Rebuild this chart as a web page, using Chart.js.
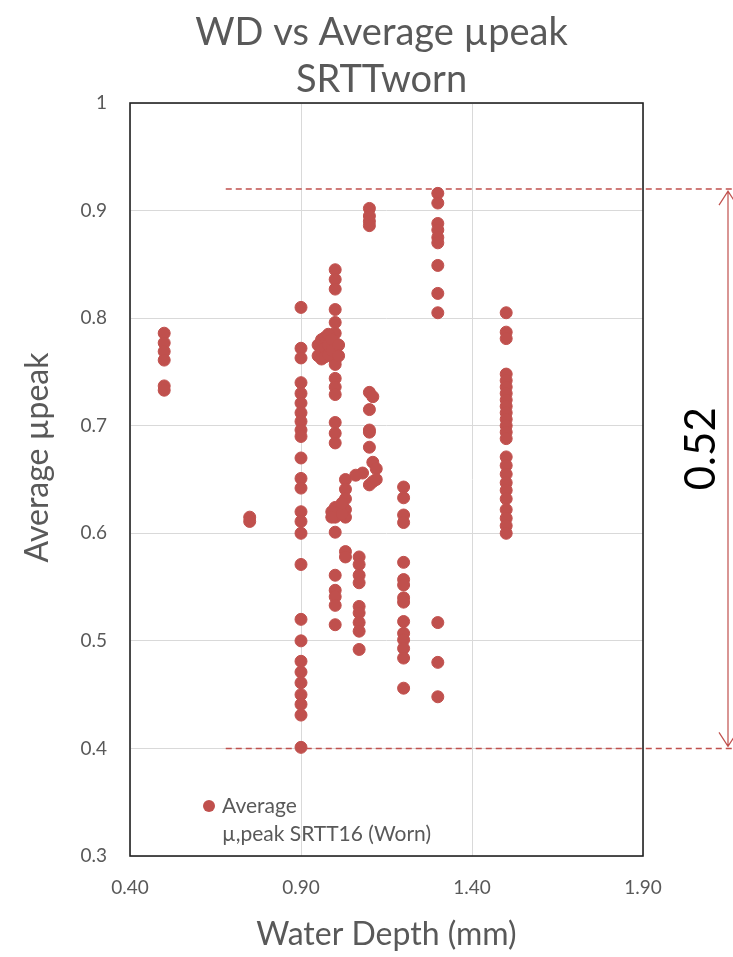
<!DOCTYPE html>
<html>
<head>
<meta charset="utf-8">
<script src="https://cdn.jsdelivr.net/npm/chart.js@4/dist/chart.umd.min.js"></script>
<style>
  html, body { margin:0; padding:0; background:#fff; }
  #wrap { width:733px; height:957px; }
</style>
</head>
<body>
<div id="wrap"><canvas id="wdChart" width="733" height="957"></canvas></div>
<script>
// water depth columns (mm) and the average mu peak readings at each
const depths = [0.50, 0.75, 0.90, 1.00, 1.03, 1.07, 1.10, 1.20, 1.30, 1.50];
const mu050 = [0.786, 0.777, 0.769, 0.761, 0.737, 0.733];
const mu075 = [0.615, 0.611];
const mu090 = [0.810, 0.772, 0.763, 0.740, 0.730, 0.721, 0.712, 0.704, 0.696, 0.690, 0.670, 0.651, 0.642,
               0.620, 0.611, 0.600, 0.571, 0.520, 0.500, 0.481, 0.471, 0.461, 0.450, 0.441, 0.431, 0.401];
const mu100 = [0.845, 0.836, 0.827, 0.808, 0.796, 0.786, 0.777, 0.768, 0.761, 0.757, 0.744, 0.736, 0.729,
               0.703, 0.693, 0.684, 0.624, 0.615, 0.601, 0.561, 0.547, 0.541, 0.533, 0.515];
const mu103 = [0.650, 0.641, 0.632, 0.622, 0.615, 0.583, 0.578];
const mu107 = [0.578, 0.571, 0.561, 0.554, 0.532, 0.526, 0.517, 0.509, 0.492];
const mu110 = [0.902, 0.895, 0.890, 0.886, 0.731, 0.715, 0.696, 0.680, 0.645];
const mu120 = [0.643, 0.633, 0.617, 0.610, 0.573, 0.557, 0.552, 0.540, 0.536, 0.518, 0.507, 0.501, 0.493, 0.484, 0.456];
const mu130 = [0.916, 0.907, 0.888, 0.882, 0.875, 0.870, 0.849, 0.823, 0.805, 0.517, 0.480, 0.448];
const mu150 = [0.805, 0.787, 0.781, 0.748, 0.742, 0.736, 0.730, 0.724, 0.718, 0.712, 0.706, 0.700, 0.694,
               0.688, 0.671, 0.663, 0.655, 0.647, 0.640, 0.632, 0.622, 0.614, 0.607, 0.600];
const muCols = [mu050, mu075, mu090, mu100, mu103, mu107, mu110, mu120, mu130, mu150];

// readings logged off the main columns
const extraWD = [0.95, 0.95, 0.96, 0.96, 0.96, 0.97, 0.97, 0.97, 0.98, 0.98, 0.98, 0.99, 0.99, 1.01, 1.01,
                 0.99, 0.99, 1.02, 1.02, 1.11, 1.10, 1.11, 1.08, 1.12, 1.06, 1.11, 1.12];
const extraMu = [0.775, 0.765, 0.780, 0.770, 0.762, 0.782, 0.772, 0.764, 0.785, 0.775, 0.766, 0.780, 0.770, 0.775, 0.765,
                 0.620, 0.615, 0.618, 0.628, 0.727, 0.694, 0.666, 0.656, 0.660, 0.654, 0.648, 0.650];

// range markers
const rangeTop = 0.92;
const rangeBottom = 0.40;
const rangeStartWD = 0.68;
const rangeLabel = '0.52';

const titleLines = ['WD vs Average \u00b5peak', 'SRTTworn'];
const yTitle = 'Average \u00b5peak';
const seriesLabel = ['Average', '\u00b5,peak SRTT16 (Worn)'];
const red = '#c0504d';
const grey = '#595959';
const fontFam = 'Lato, "Open Sans", sans-serif';

const points = [];
depths.forEach((d, i) => muCols[i].forEach(v => points.push({x: d, y: v})));
extraWD.forEach((d, i) => points.push({x: d, y: extraMu[i]}));

// chart title and y title, centred like the spreadsheet version
const texts = {
  id: 'texts',
  afterDraw(chart) {
    const {ctx, chartArea: a} = chart;
    ctx.save();
    ctx.fillStyle = grey;
    ctx.textAlign = 'center';
    ctx.textBaseline = 'alphabetic';
    ctx.font = '38px ' + fontFam;
    const cx = (a.left + a.right) / 2 - 5;
    ctx.fillText(titleLines[0], cx, 45);
    ctx.fillText(titleLines[1], cx, 92);
    ctx.translate(38, (a.top + a.bottom) / 2 - 22);
    ctx.rotate(-Math.PI / 2);
    ctx.textBaseline = 'middle';
    ctx.font = '32px ' + fontFam;
    ctx.fillText(yTitle, 0, 0);
    ctx.restore();
  }
};

// dashed range lines, double arrow and the legend drawn inside the plot
const annotate = {
  id: 'annotate',
  afterDatasetsDraw(chart) {
    const {ctx, scales: {x, y}, chartArea} = chart;
    const yT = y.getPixelForValue(rangeTop), yB = y.getPixelForValue(rangeBottom);
    const x0 = x.getPixelForValue(rangeStartWD), x1 = chart.width;
    ctx.save();
    ctx.strokeStyle = red;
    ctx.lineWidth = 1.5;
    ctx.setLineDash([6, 4]);
    [yT, yB].forEach(py => { ctx.beginPath(); ctx.moveTo(x0, py); ctx.lineTo(x1, py); ctx.stroke(); });
    ctx.setLineDash([]);
    const ax = chart.width - 5;
    ctx.lineWidth = 1.2;
    ctx.beginPath();
    ctx.moveTo(ax, yT + 2); ctx.lineTo(ax, yB - 2);
    ctx.moveTo(ax - 9, yT + 16); ctx.lineTo(ax, yT + 2); ctx.lineTo(ax + 9, yT + 16);
    ctx.moveTo(ax - 9, yB - 16); ctx.lineTo(ax, yB - 2); ctx.lineTo(ax + 9, yB - 16);
    ctx.stroke();
    ctx.translate(ax - 27, (yT + yB) / 2 - 20);
    ctx.rotate(-Math.PI / 2);
    ctx.fillStyle = '#000';
    ctx.font = '42px ' + fontFam;
    ctx.textAlign = 'center';
    ctx.textBaseline = 'middle';
    ctx.fillText(rangeLabel, 0, 0);
    ctx.restore();

    // legend
    ctx.save();
    const lx = chartArea.left + 79, ly = chartArea.bottom - 50;
    ctx.fillStyle = red;
    ctx.beginPath(); ctx.arc(lx, ly, 6, 0, Math.PI * 2); ctx.fill();
    ctx.fillStyle = grey;
    ctx.font = '21px ' + fontFam;
    ctx.textBaseline = 'middle';
    ctx.fillText(seriesLabel[0], lx + 13, ly);
    ctx.fillText(seriesLabel[1], lx + 13, ly + 28);
    ctx.restore();
  }
};

// black frame round the plot area
const frame = {
  id: 'frame',
  beforeDatasetsDraw(chart) {
    const {ctx, chartArea: a} = chart;
    ctx.save();
    ctx.strokeStyle = '#222';
    ctx.lineWidth = 1.6;
    ctx.strokeRect(a.left, a.top, a.right - a.left, a.bottom - a.top);
    ctx.restore();
  }
};

new Chart(document.getElementById('wdChart'), {
  type: 'scatter',
  data: {
    datasets: [{
      label: seriesLabel.join(' '),
      data: points,
      backgroundColor: red,
      borderColor: red,
      pointRadius: 6,
      pointHoverRadius: 6
    }]
  },
  options: {
    responsive: false,
    animation: false,
    layout: { padding: { left: 0, right: 90, top: 103, bottom: 0 } },
    plugins: {
      legend: { display: false },
      tooltip: { enabled: false },
      title: { display: false }
    },
    scales: {
      x: {
        type: 'linear', min: 0.4, max: 1.9,
        afterFit: s => { s.height = 101; },
        ticks: { stepSize: 0.5, color: grey, padding: 20, font: { family: fontFam, size: 19 },
                 callback: v => v.toFixed(2) },
        grid: { color: '#d9d9d9', drawTicks: false },
        border: { display: false },
        title: { display: true, text: 'Water Depth (mm)', color: grey,
                 font: { family: fontFam, size: 32 }, padding: { top: 4, bottom: 3 } }
      },
      y: {
        min: 0.3, max: 1,
        afterFit: s => { s.width = 130; },
        ticks: { stepSize: 0.1, color: grey, padding: 23, font: { family: fontFam, size: 19 },
                 callback: v => +v.toFixed(1) + '' },
        grid: { color: '#d9d9d9', drawTicks: false },
        border: { display: false }
      }
    }
  },
  plugins: [frame, annotate, texts]
});
</script>
</body>
</html>
